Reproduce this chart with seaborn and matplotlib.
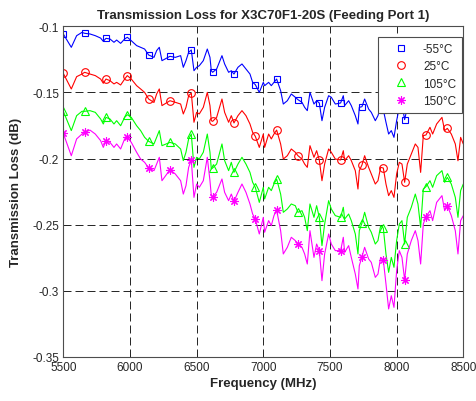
import numpy as np
import pandas as pd
import matplotlib
matplotlib.use("Agg")
import matplotlib.pyplot as plt
from matplotlib.lines import Line2D
from matplotlib.ticker import FuncFormatter
import seaborn as sns

# frequency points (MHz)
freq = [5500, 5560, 5600, 5640, 5660, 5700, 5740, 5780, 5800, 5820, 5850, 5880, 5900, 5930, 5960, 5980,
        6010, 6050, 6080, 6110, 6140, 6180, 6200, 6220, 6240,
        6300, 6340, 6380, 6400, 6420, 6440, 6460, 6480, 6500, 6520, 6550, 6580, 6600, 6610, 6620, 6650,
        6690, 6710, 6740, 6760, 6780, 6810, 6840, 6870, 6900, 6920, 6940, 6970,
        7000, 7010, 7040, 7060, 7080, 7100, 7130, 7150, 7180, 7210, 7240, 7260, 7290, 7310, 7330, 7350,
        7380, 7400, 7420, 7440, 7460, 7490, 7510, 7540, 7580, 7600, 7610, 7640, 7660, 7690, 7710,
        7720, 7740, 7760, 7790, 7810, 7840, 7860, 7880, 7900, 7920, 7940, 7960, 7980, 8000, 8020, 8040,
        8060, 8080, 8110, 8140, 8160, 8180, 8200, 8220, 8250, 8270, 8300, 8340, 8360, 8380, 8410, 8440,
        8460, 8480, 8500]

loss_m55 = [-0.1058, -0.1159, -0.1071, -0.1046, -0.1053, -0.1058, -0.1071, -0.1089, -0.1114, -0.1091,
            -0.1096, -0.1121, -0.1104, -0.1129, -0.1096, -0.1083, -0.1109, -0.1146, -0.1159, -0.1172,
            -0.1217, -0.1235, -0.1184, -0.1159, -0.1260,
            -0.1227, -0.1235, -0.1222, -0.1310, -0.1260, -0.1197, -0.1179, -0.1336, -0.1310, -0.1298,
            -0.1260, -0.1172, -0.1235, -0.1336, -0.1348, -0.1323, -0.1222, -0.1285, -0.1348, -0.1336,
            -0.1361, -0.1310, -0.1285, -0.1323, -0.1361, -0.1424, -0.1441, -0.1500,
            -0.1424, -0.1449, -0.1424, -0.1449, -0.1424, -0.1399, -0.1487, -0.1588, -0.1563, -0.1512,
            -0.1537, -0.1555, -0.1575, -0.1613, -0.1638, -0.1500, -0.1588, -0.1563, -0.1580, -0.1714,
            -0.1613, -0.1525, -0.1537, -0.1588, -0.1580, -0.1525, -0.1600, -0.1563, -0.1600, -0.1676,
            -0.1739,
            -0.1613, -0.1608, -0.1550, -0.1626, -0.1651, -0.1714, -0.1676, -0.1600, -0.1631, -0.1726,
            -0.1815, -0.1789, -0.1840, -0.1714, -0.1613, -0.1588, -0.1706, -0.1613, -0.1588, -0.1575,
            -0.1600, -0.1651, -0.1588, -0.1583, -0.1575, -0.1600, -0.1588, -0.1575, -0.1600, -0.1588,
            -0.1563, -0.1424, -0.1588, -0.1449, -0.1424]

loss_25 = [-0.1356, -0.1474, -0.1381, -0.1361, -0.1348, -0.1361, -0.1373, -0.1399, -0.1431, -0.1399,
           -0.1411, -0.1436, -0.1424, -0.1444, -0.1399, -0.1373, -0.1399, -0.1449, -0.1474, -0.1500,
           -0.1550, -0.1576, -0.1512, -0.1474, -0.1600,
           -0.1563, -0.1575, -0.1588, -0.1663, -0.1613, -0.1525, -0.1505, -0.1726, -0.1651, -0.1663,
           -0.1613, -0.1500, -0.1600, -0.1714, -0.1719, -0.1689, -0.1550, -0.1651, -0.1726, -0.1676,
           -0.1731, -0.1676, -0.1638, -0.1676, -0.1739, -0.1802, -0.1832, -0.1916,
           -0.1815, -0.1916, -0.1815, -0.1852, -0.1815, -0.1785, -0.1890, -0.2004, -0.1979, -0.1928,
           -0.1953, -0.1979, -0.2004, -0.2042, -0.2067, -0.1903, -0.1991, -0.1941, -0.2011, -0.2168,
           -0.2042, -0.1928, -0.1953, -0.2004, -0.2011, -0.1941, -0.2016, -0.1979, -0.2016, -0.2092,
           -0.2231,
           -0.2092, -0.2049, -0.1979, -0.2067, -0.2117, -0.2193, -0.2168, -0.2067, -0.2072, -0.2193,
           -0.2281, -0.2243, -0.2294, -0.2117, -0.2029, -0.2042, -0.2180, -0.2042, -0.1966, -0.1890,
           -0.1916, -0.2105, -0.1827, -0.1822, -0.1764, -0.1815, -0.1739, -0.1689, -0.1789, -0.1772,
           -0.1815, -0.1890, -0.2017, -0.1840, -0.1890]

loss_105 = [-0.1643, -0.1789, -0.1676, -0.1643, -0.1643, -0.1638, -0.1651, -0.1701, -0.1739, -0.1689,
            -0.1701, -0.1739, -0.1714, -0.1752, -0.1689, -0.1669, -0.1689, -0.1752, -0.1789, -0.1840,
            -0.1870, -0.1890, -0.1840, -0.1789, -0.1903,
            -0.1878, -0.1890, -0.1928, -0.2016, -0.1953, -0.1852, -0.1815, -0.2067, -0.1991, -0.2004,
            -0.1953, -0.1815, -0.1953, -0.2079, -0.2072, -0.2042, -0.1890, -0.2016, -0.2092, -0.2029,
            -0.2105, -0.2042, -0.1991, -0.2042, -0.2105, -0.2180, -0.2218, -0.2332,
            -0.2218, -0.2306, -0.2218, -0.2243, -0.2193, -0.2155, -0.2269, -0.2407, -0.2382, -0.2344,
            -0.2357, -0.2407, -0.2395, -0.2445, -0.2546, -0.2344, -0.2445, -0.2357, -0.2445, -0.2659,
            -0.2496, -0.2319, -0.2382, -0.2432, -0.2445, -0.2369, -0.2458, -0.2420, -0.2470, -0.2571,
            -0.2722,
            -0.2546, -0.2488, -0.2407, -0.2521, -0.2558, -0.2647, -0.2621, -0.2508, -0.2526, -0.2722,
            -0.2861, -0.2748, -0.2823, -0.2621, -0.2496, -0.2470, -0.2647, -0.2445, -0.2369, -0.2269,
            -0.2344, -0.2521, -0.2231, -0.2213, -0.2168, -0.2218, -0.2130, -0.2092, -0.2180, -0.2143,
            -0.2193, -0.2294, -0.2445, -0.2243, -0.2193]

loss_150 = [-0.1810, -0.1979, -0.1852, -0.1815, -0.1802, -0.1785, -0.1815, -0.1865, -0.1916, -0.1865,
            -0.1878, -0.1916, -0.1890, -0.1928, -0.1852, -0.1840, -0.1878, -0.1953, -0.2004, -0.2029,
            -0.2072, -0.2092, -0.2042, -0.1991, -0.2168,
            -0.2085, -0.2117, -0.2168, -0.2269, -0.2206, -0.2067, -0.2011, -0.2294, -0.2193, -0.2218,
            -0.2168, -0.1991, -0.2168, -0.2281, -0.2289, -0.2256, -0.2155, -0.2256, -0.2319, -0.2269,
            -0.2324, -0.2256, -0.2193, -0.2256, -0.2344, -0.2420, -0.2458, -0.2571,
            -0.2445, -0.2558, -0.2470, -0.2508, -0.2432, -0.2390, -0.2546, -0.2722, -0.2672, -0.2596,
            -0.2621, -0.2647, -0.2672, -0.2722, -0.2798, -0.2546, -0.2748, -0.2647, -0.2697, -0.2924,
            -0.2722, -0.2571, -0.2647, -0.2697, -0.2697, -0.2596, -0.2710, -0.2659, -0.2748, -0.2874,
            -0.2987,
            -0.2811, -0.2743, -0.2672, -0.2760, -0.2786, -0.2899, -0.2874, -0.2748, -0.2768, -0.2949,
            -0.3138, -0.3038, -0.3126, -0.2849, -0.2697, -0.2748, -0.2919, -0.2722, -0.2621, -0.2546,
            -0.2621, -0.2798, -0.2496, -0.2440, -0.2395, -0.2470, -0.2332, -0.2281, -0.2395, -0.2357,
            -0.2432, -0.2546, -0.2722, -0.2470, -0.2432]

# where the markers sit
marker_freq = [5500, 5660, 5820, 5980, 6140, 6300, 6460, 6620, 6780, 6940,
               7100, 7260, 7420, 7580, 7740, 7900, 8060, 8220, 8380]

labels = ["-55°C", "25°C", "105°C", "150°C"]
colors = ["#0000ff", "#ff0000", "#00ff00", "#ff00ff"]
# matlab-style markers, last one is an 8-arm asterisk
markers = ["s", "o", "^", (8, 2, 0)]
sizes = [5, 5.5, 5.5, 6]
x_ticks = [5500, 6000, 6500, 7000, 7500, 8000, 8500]
y_ticks = [-0.35, -0.3, -0.25, -0.2, -0.15, -0.1]

sns.set_style("ticks")
plt.rcParams["font.family"] = ["Liberation Sans", "DejaVu Sans"]
plt.rcParams["axes.unicode_minus"] = False

df = pd.DataFrame({"freq": freq, labels[0]: loss_m55, labels[1]: loss_25,
                   labels[2]: loss_105, labels[3]: loss_150})
mark_idx = [freq.index(f) for f in marker_freq]

fig = plt.figure(figsize=(4.76, 4.02), dpi=100)
ax = fig.add_axes([63.3 / 476, 1 - 357.8 / 402, 400 / 476, 330.5 / 402])

for lab, col, mk, ms in zip(labels, colors, markers, sizes):
    sns.lineplot(data=df, x="freq", y=lab, ax=ax, color=col, linewidth=0.8,
                 marker=mk, markevery=mark_idx, markersize=ms, markerfacecolor="none",
                 markeredgecolor=col, markeredgewidth=0.8, errorbar=None, legend=False)

ax.set_xlim(5500, 8500)
ax.set_ylim(-0.35, -0.1)
ax.set_xticks(x_ticks)
ax.set_yticks(y_ticks)
ax.yaxis.set_major_formatter(FuncFormatter(lambda v, p: "{:g}".format(round(v, 2))))
ax.grid(True, color="k", linewidth=0.6, linestyle=(0, (9.6, 4.8)))
ax.set_axisbelow(True)
ax.tick_params(direction="in", length=4, width=0.6, top=True, right=True,
               labelsize=8.5, colors="0.15", pad=3)
for sp in ax.spines.values():
    sp.set_visible(True)
    sp.set_color("0.3")
    sp.set_linewidth(0.8)

ax.set_xlabel("Frequency (MHz)", fontsize=9.5, fontweight="bold", labelpad=3)
ax.set_ylabel("Transmission Loss (dB)", fontsize=9.5, fontweight="bold", labelpad=7)
ax.set_title("Transmission Loss for X3C70F1-20S (Feeding Port 1)", fontsize=9.5,
             fontweight="bold", pad=6)

handles = [Line2D([], [], linestyle="none", marker=mk, markersize=ms,
                  markerfacecolor="none", markeredgecolor=col, markeredgewidth=0.8)
           for col, mk, ms in zip(colors, markers, sizes)]
leg = ax.legend(handles, labels, loc="upper right", bbox_to_anchor=(462 / 476, 1 - 38 / 402),
                bbox_transform=fig.transFigure, borderaxespad=0, fontsize=8.5,
                frameon=True, fancybox=False, framealpha=1, edgecolor="0.3",
                handlelength=2.8, handletextpad=0.5, labelspacing=0.45, borderpad=0.5)
leg.get_frame().set_linewidth(0.8)

fig.savefig("out.png", dpi=100)
